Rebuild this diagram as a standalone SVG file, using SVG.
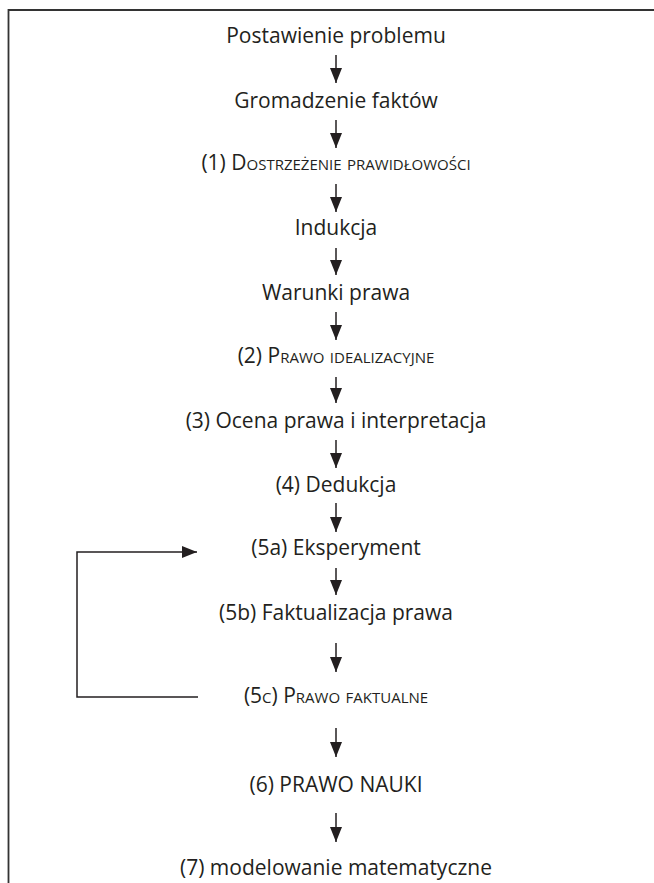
<svg xmlns="http://www.w3.org/2000/svg" width="654" height="883" viewBox="0 0 654 883">
<defs>
<style>
.t{font-family:"Open Sans","Noto Sans","Liberation Sans",sans-serif;font-size:21px;fill:#231f20;text-anchor:middle}
.sc{font-variant:small-caps}
.c{stroke:#231f20;stroke-width:1.5;fill:none}
</style>
<marker id="ah" viewBox="0 0 10 12" refX="10" refY="6" markerWidth="10" markerHeight="12" markerUnits="userSpaceOnUse" orient="auto">
<path d="M0,0 L10,6 L0,12 Z" fill="#231f20"/>
</marker>
<marker id="av" viewBox="0 0 15 12" refX="15" refY="6" markerWidth="15" markerHeight="12" markerUnits="userSpaceOnUse" orient="auto">
<path d="M0,0 L15,6 L0,12 Z" fill="#231f20"/>
</marker>
</defs>
<rect width="654" height="883" fill="#fff"/>
<path d="M8.5,883 V10 H654" stroke="#333" stroke-width="1.8" fill="none"/>
<g id="connectors" class="c">
<path d="M336,55 V83" marker-end="url(#av)"/>
<path d="M336,120 V148" marker-end="url(#av)"/>
<path d="M336,184 V212" marker-end="url(#av)"/>
<path d="M336,248 V275" marker-end="url(#av)"/>
<path d="M336,312 V340" marker-end="url(#av)"/>
<path d="M336,377 V403" marker-end="url(#av)"/>
<path d="M336,440 V468" marker-end="url(#av)"/>
<path d="M336,503 V532" marker-end="url(#av)"/>
<path d="M336,568 V595" marker-end="url(#av)"/>
<path d="M336,643 V672" marker-end="url(#av)"/>
<path d="M336,728 V757" marker-end="url(#av)"/>
<path d="M336,813 V842" marker-end="url(#av)"/>
<path d="M198,697 H77 V552 H197" marker-end="url(#av)"/>
</g>
<g id="n0"><text class="t" x="336" y="43">Postawienie problemu</text></g>
<g id="n1"><text class="t" x="336" y="108">Gromadzenie faktów</text></g>
<g id="n2"><text class="t sc" x="336" y="170">(1) Dostrzeżenie prawidłowości</text></g>
<g id="n3"><text class="t" x="336" y="235">Indukcja</text></g>
<g id="n4"><text class="t" x="336" y="300">Warunki prawa</text></g>
<g id="n5"><text class="t sc" x="336" y="363">(2) Prawo idealizacyjne</text></g>
<g id="n6"><text class="t" x="336" y="428">(3) Ocena prawa i interpretacja</text></g>
<g id="n7"><text class="t" x="336" y="492">(4) Dedukcja</text></g>
<g id="n8"><text class="t" x="336" y="555">(5a) Eksperyment</text></g>
<g id="n9"><text class="t" x="336" y="620">(5b) Faktualizacja prawa</text></g>
<g id="n10"><text class="t sc" x="336" y="703">(5c) Prawo faktualne</text></g>
<g id="n11"><text class="t" x="336" y="792">(6) PRAWO NAUKI</text></g>
<g id="n12"><text class="t" x="336" y="875">(7) modelowanie matematyczne</text></g>
</svg>
